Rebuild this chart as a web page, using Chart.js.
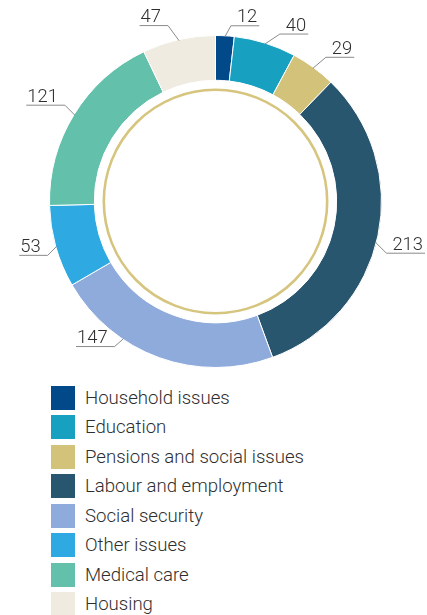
<!DOCTYPE html>
<html>
<head>
<meta charset="utf-8">
<script src="https://cdn.jsdelivr.net/npm/chart.js@4/dist/chart.umd.min.js"></script>
<style>
  html, body { margin: 0; padding: 0; background: #fff; }
  body { width: 427px; height: 615px; position: relative; overflow: hidden; font-family: Roboto, "Noto Sans", sans-serif; }
  .chart-wrap { position: absolute; left: 0; top: 0; width: 427px; height: 370px; }
  .legend { position: absolute; left: 51px; top: 386px; margin: 0; padding: 0; list-style: none; }
  .legend li { display: flex; align-items: center; height: 24px; margin-bottom: 5.45px; }
  .legend .swatch { width: 24px; height: 24px; flex: none; }
  .legend .txt { margin-left: 10px; font-size: 18.6px; font-weight: 300; color: #2e2e2e; white-space: nowrap; }
</style>
</head>
<body>
<div class="chart-wrap"><canvas id="appealsChart"></canvas></div>
<ul class="legend" id="appealsLegend"></ul>
<script>
const categories = [
  "Household issues",
  "Education",
  "Pensions and social issues",
  "Labour and employment",
  "Social security",
  "Other issues",
  "Medical care",
  "Housing",
];
const counts = [12, 40, 29, 213, 147, 53, 121, 47];
const colors = ["#02498a", "#18a0c1", "#d3c27a", "#29566f", "#8eabdc", "#2ea9e1", "#63c0aa", "#efebe1"];

// where along each slice the leader starts (0..1) and the elbow offset from there
const anchorAt = [0.5, 0.5, 0.5, 0.52, 0.675, 0.5, 0.5, 0.5];
const elbows = [[6, -11], [15, -10], [13, -11], [11, 11], [-9, 8], [-9, 9], [-10, -10], [-11, -15]];

const ringAndLabels = {
  id: "ringAndLabels",
  afterDatasetsDraw(chart) {
    const ctx = chart.ctx;
    const arcs = chart.getDatasetMeta(0).data;
    if (!arcs.length) return;
    const cx = arcs[0].x, cy = arcs[0].y;

    // thin gold ring inside the hole
    ctx.save();
    ctx.beginPath();
    ctx.arc(cx, cy, arcs[0].innerRadius - 9.5, 0, Math.PI * 2);
    ctx.strokeStyle = "#d6c57e";
    ctx.lineWidth = 2.6;
    ctx.stroke();

    ctx.font = "300 18.4px Roboto";
    ctx.fillStyle = "#2e2e2e";
    ctx.strokeStyle = "#8a8a8a";
    ctx.lineWidth = 1;
    ctx.textBaseline = "alphabetic";

    arcs.forEach((arc, i) => {
      const a = arc.startAngle + (arc.endAngle - arc.startAngle) * anchorAt[i];
      const r = arc.outerRadius - 1;
      const ax = cx + Math.cos(a) * r;
      const ay = cy + Math.sin(a) * r;
      const ex = ax + elbows[i][0];
      const ey = ay + elbows[i][1];
      const text = String(counts[i]);
      const w = ctx.measureText(text).width;
      const len = w + 8;
      const right = elbows[i][0] > 0;
      const endX = right ? ex + len : ex - len;

      ctx.beginPath();
      ctx.moveTo(ax, ay);
      ctx.lineTo(ex, ey);
      ctx.lineTo(endX, ey);
      ctx.stroke();

      if (right) {
        ctx.textAlign = "right";
        ctx.fillText(text, endX - 2, ey - 3.5);
      } else {
        ctx.textAlign = "left";
        ctx.fillText(text, endX + 1, ey - 3.5);
      }
    });
    ctx.restore();
  },
};

new Chart(document.getElementById("appealsChart").getContext("2d"), {
  type: "doughnut",
  data: {
    labels: categories,
    datasets: [{
      data: counts,
      backgroundColor: colors,
      borderColor: "#fff",
      borderWidth: 1,
      hoverOffset: 0,
      offset: 0,
    }],
  },
  options: {
    responsive: true,
    maintainAspectRatio: false,
    animation: false,
    cutout: "73%",
    layout: { padding: { left: 49, right: 45, top: 35, bottom: 2 } },
    plugins: { legend: { display: false }, tooltip: { enabled: false } },
  },
  plugins: [ringAndLabels],
});

const legend = document.getElementById("appealsLegend");
legend.innerHTML = categories
  .map((c, i) => `<li><span class="swatch" style="background:${colors[i]}"></span><span class="txt">${c}</span></li>`)
  .join("");
</script>
</body>
</html>
